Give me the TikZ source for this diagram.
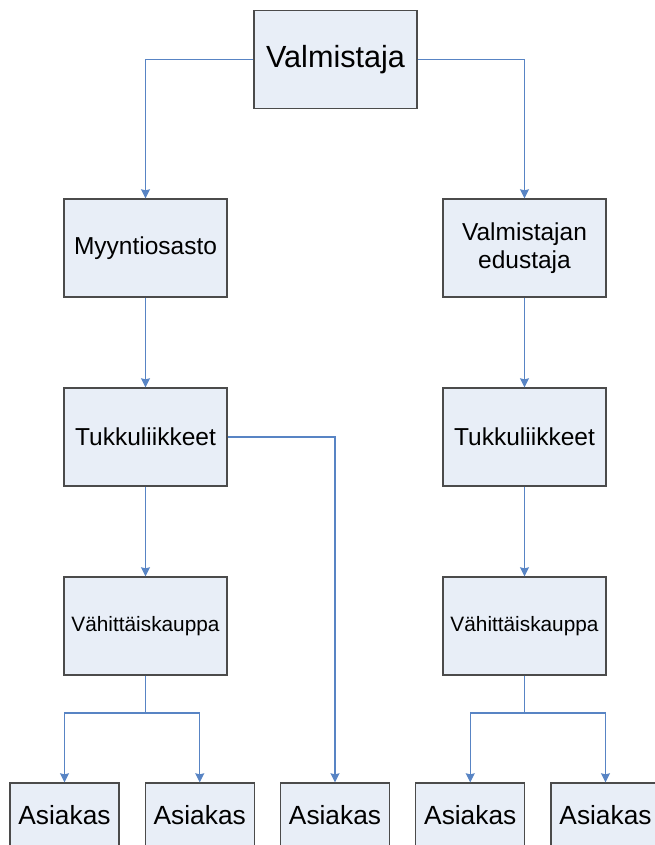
\documentclass[tikz,border=0pt]{standalone}
\usepackage{fontspec}
\setmainfont{Liberation Sans}
\usetikzlibrary{arrows.meta,positioning}
\definecolor{boxfill}{RGB}{232,238,247}
\definecolor{boxline}{RGB}{75,75,75}
\definecolor{linkblue}{RGB}{88,132,196}

\begin{document}
\begin{tikzpicture}[x=1pt,y=1pt,node distance=189pt,>={Stealth[length=9pt,width=9pt,inset=1pt]},
    box/.style={draw=boxline,line width=1.4pt,fill=boxfill,minimum width=163pt,minimum height=98pt,
      inner sep=2pt,align=center,font=\fontsize{24.5}{28}\selectfont},
    custbox/.style={box,minimum width=109pt,minimum height=64pt,font=\fontsize{26.3}{30}\selectfont},
    link/.style={draw=linkblue,line width=1.1pt}]
    \useasboundingbox (0,0) rectangle (655,-845);

    \node[box,font=\fontsize{30.6}{34}\selectfont] (valm) at (335.5,-59.5) {Valmistaja};
    \node[box] (myynti) at (145.5,-248) {Myyntiosasto};
    \node[box] (tukku1) [below of=myynti] {Tukkuliikkeet};
    \node[box,font=\fontsize{20.8}{24}\selectfont] (vahit1) [below of=tukku1] {Vähittäiskauppa};
    \node[box] (edust) at (524.5,-248) {Valmistajan\\edustaja};
    \node[box] (tukku2) [below of=edust] {Tukkuliikkeet};
    \node[box,font=\fontsize{20.8}{24}\selectfont] (vahit2) [below of=tukku2] {Vähittäiskauppa};

    \begin{scope}[node distance=135.25pt]
      \node[custbox] (as1) at (64.5,-815) {Asiakas};
      \node[custbox] (as2) [right of=as1] {Asiakas};
      \node[custbox] (as3) [right of=as2] {Asiakas};
      \node[custbox] (as4) [right of=as3] {Asiakas};
      \node[custbox] (as5) [right of=as4] {Asiakas};
    \end{scope}

    \coordinate (split1) at (145.5,-713);
    \coordinate (split2) at (524.5,-713);

    \draw[link,->] (valm.west) -| (myynti.north);
    \draw[link,->] (valm.east) -| (edust.north);
    \draw[link,->] (myynti) -- (tukku1);
    \draw[link,->] (tukku1) -- (vahit1);
    \draw[link,->] (tukku1.east) -| (as3.north);
    \draw[link,->] (edust) -- (tukku2);
    \draw[link,->] (tukku2) -- (vahit2);

    \draw[link] (vahit1) -- (split1);
    \draw[link,->] (split1) -| (as1.north);
    \draw[link,->] (split1) -| (as2.north);
    \draw[link] (vahit2) -- (split2);
    \draw[link,->] (split2) -| (as4.north);
    \draw[link,->] (split2) -| (as5.north);
\end{tikzpicture}
\end{document}
